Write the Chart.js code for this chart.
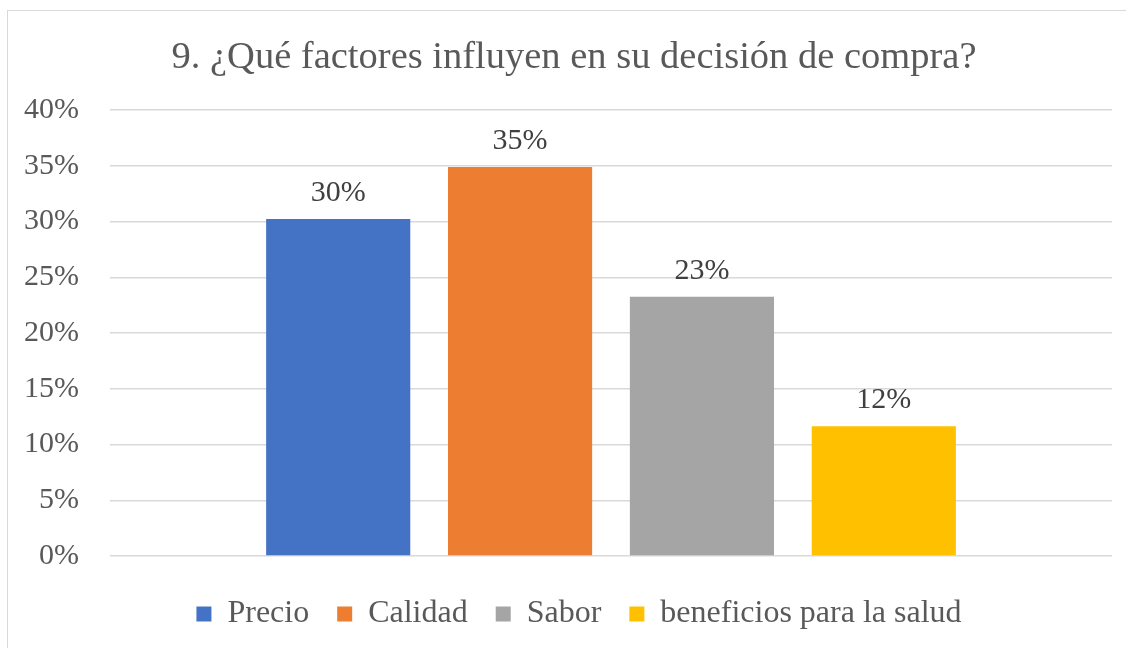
<!DOCTYPE html>
<html>
<head>
<meta charset="utf-8">
<script src="https://cdn.jsdelivr.net/npm/chart.js@4"></script>
<style>
  html, body { margin: 0; padding: 0; background: #fff; }
  body { width: 1126px; height: 648px; position: relative; overflow: hidden; }
  #frame {
    position: absolute; left: 7px; top: 10px; width: 1200px; height: 700px;
    border-left: 1.5px solid #d9d9d9; border-top: 1.5px solid #d9d9d9;
  }
  #wrap { position: absolute; left: 0; top: 0; width: 1126px; height: 648px; }
</style>
</head>
<body>
<div id="frame"></div>
<div id="wrap"><canvas id="chart" width="1126" height="648"></canvas></div>
<script>
// datos
const titleText = '9. ¿Qué factores influyen en su decisión de compra?';
const seriesNames = ['Precio', 'Calidad', 'Sabor', 'beneficios para la salud'];
const seriesValues = [0.3023, 0.3488, 0.2326, 0.1163];
const seriesColors = ['#4472C4', '#ED7D31', '#A5A5A5', '#FFC000'];
const yTicks = [0, 0.05, 0.10, 0.15, 0.20, 0.25, 0.30, 0.35, 0.40];

const fontFam = "'Liberation Serif', 'Times New Roman', serif";
const textColor = '#595959';

// etiquetas encima de cada barra
const barLabels = {
    id: 'barLabels',
    afterDatasetsDraw(chart) {
        const ctx = chart.ctx;
        ctx.save();
        ctx.font = '30px ' + fontFam;
        ctx.fillStyle = '#404040';
        ctx.textAlign = 'center';
        ctx.textBaseline = 'alphabetic';
        chart.data.datasets.forEach((ds, i) => {
            chart.getDatasetMeta(i).data.forEach((bar, j) => {
                const txt = Math.round(ds.data[j] * 100) + '%';
                ctx.fillText(txt, bar.x, bar.y - 18);
            });
        });
        ctx.restore();
    }
};

// corre un poco el titulo y la leyenda a la derecha, como en el original
const nudge = {
    id: 'nudge',
    afterLayout(chart) {
        if (chart.titleBlock) { chart.titleBlock.left += 6; chart.titleBlock.right += 6; }
        if (chart.legend) { chart.legend.left += 11; chart.legend.right += 11; }
    }
};

const ctx = document.getElementById('chart').getContext('2d');
new Chart(ctx, {
    type: 'bar',
    data: {
        labels: [''],
        datasets: seriesNames.map((name, i) => ({
            label: name,
            data: [seriesValues[i]],
            backgroundColor: seriesColors[i],
            borderWidth: 0,
            categoryPercentage: 0.726,
            barPercentage: 0.7925
        }))
    },
    options: {
        responsive: false,
        animation: false,
        layout: { padding: { left: 24, right: 14, top: 0, bottom: 8 } },
        scales: {
            x: {
                grid: { display: false },
                border: { display: false },
                ticks: { display: false },
                title: { display: true, text: '', font: { size: 5 }, padding: 0 }
            },
            y: {
                min: 0,
                max: 0.4,
                afterBuildTicks: axis => { axis.ticks = yTicks.map(v => ({ value: v })); },
                afterFit: axis => { axis.width = 86; },
                grid: { color: '#d9d9d9', lineWidth: 1.5, drawTicks: false },
                border: { display: false },
                ticks: {
                    padding: 31,
                    color: textColor,
                    font: { family: fontFam, size: 30 },
                    callback: v => Math.round(v * 100) + '%'
                }
            }
        },
        plugins: {
            title: {
                display: true,
                text: titleText,
                color: textColor,
                font: { family: fontFam, size: 38.5, weight: 'normal' },
                padding: { top: 34.5, bottom: 29.3 }
            },
            legend: {
                position: 'bottom',
                labels: {
                    color: textColor,
                    font: { family: fontFam, size: 32 },
                    boxWidth: 15,
                    boxHeight: 15,
                    padding: 28
                }
            },
            tooltip: { enabled: false }
        }
    },
    plugins: [barLabels, nudge]
});
</script>
</body>
</html>
